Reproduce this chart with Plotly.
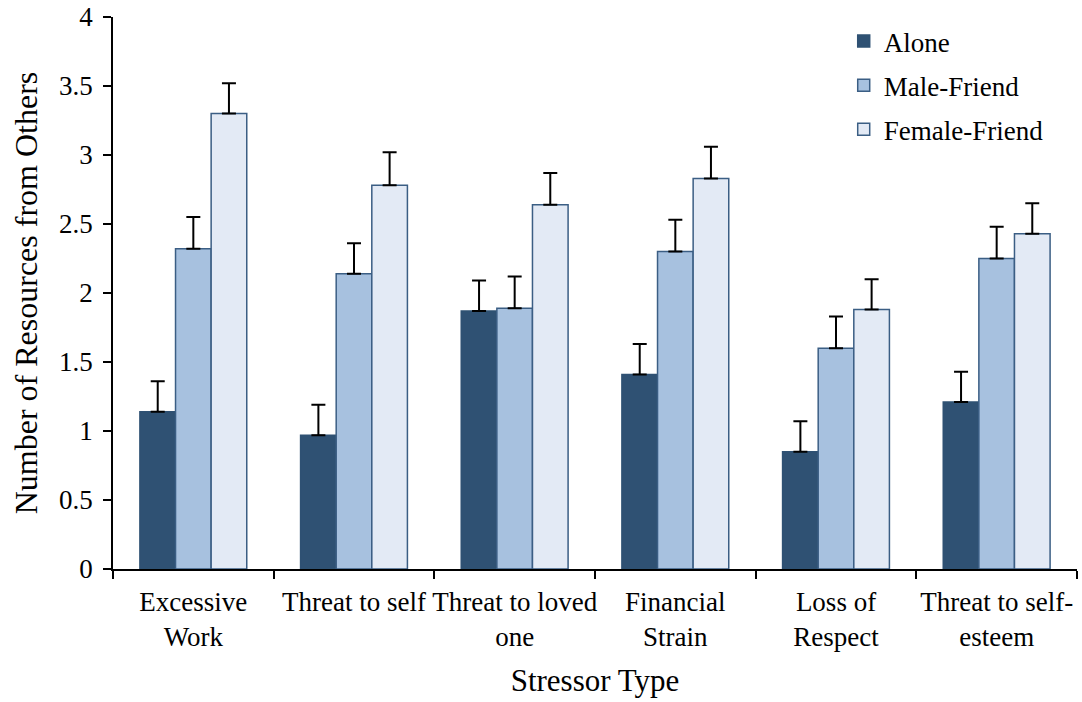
import plotly.graph_objects as go

categories = ["Excessive<br>Work", "Threat to self", "Threat to loved<br>one",
              "Financial<br>Strain", "Loss of<br>Respect", "Threat to self-<br>esteem"]
alone = [1.14, 0.97, 1.87, 1.41, 0.85, 1.21]
alone_err = [0.22, 0.22, 0.22, 0.22, 0.22, 0.22]
male = [2.32, 2.14, 1.89, 2.30, 1.60, 2.25]
male_err = [0.23, 0.22, 0.23, 0.23, 0.23, 0.23]
female = [3.30, 2.78, 2.64, 2.83, 1.88, 2.43]
female_err = [0.22, 0.24, 0.23, 0.23, 0.22, 0.22]

series = [
    ("Alone", alone, alone_err, "#2F5173", "#2F5173"),
    ("Male-Friend", male, male_err, "#A7C1DF", "#3B5E84"),
    ("Female-Friend", female, female_err, "#E3EAF5", "#3B5E84"),
]

FONT = "Liberation Serif"

fig = go.Figure()
for i, (name, vals, errs, fill, line) in enumerate(series):
    fig.add_trace(go.Bar(
        name=name, x=categories, y=vals,
        marker=dict(color=fill, line=dict(color=line, width=1.5)),
        error_y=dict(type="data", array=errs, arrayminus=[0] * len(errs),
                     symmetric=False, color="black", thickness=2, width=7),
        legendgroup=f"g{i}",
    ))

fig.update_layout(
    width=1082, height=702,
    margin=dict(l=113, r=5, t=17, b=133),
    plot_bgcolor="white", paper_bgcolor="white",
    barmode="group", bargap=0.335, bargroupgap=0,
    font=dict(family=FONT, color="black", size=27),
    showlegend=True,
    legend=dict(x=0.758, y=1.0, xanchor="left", yanchor="top",
                font=dict(size=27, family=FONT, color="black"), tracegroupgap=6,
                bgcolor="rgba(0,0,0,0)", itemwidth=30),
    xaxis=dict(showline=True, linecolor="black", linewidth=1.5,
               ticks="outside", tickson="boundaries", ticklen=8,
               tickcolor="black", tickwidth=1.5, tickangle=0, automargin=False,
               ticklabelstandoff=8, ticklabeloverflow="allow",
               tickfont=dict(size=27, family=FONT, color="black"),
               title=dict(text="Stressor Type", font=dict(size=31, family=FONT, color="black"),
                          standoff=18),
               showgrid=False, zeroline=False),
    yaxis=dict(range=[0, 4], dtick=0.5, showline=True, linecolor="black", linewidth=1.5,
               ticks="outside", ticklen=8, tickcolor="black", tickwidth=1.5,
               ticklabelstandoff=5, automargin=False, ticklabeloverflow="allow",
               tickfont=dict(size=27, family=FONT, color="black"),
               title=dict(text="Number of Resources from Others",
                          font=dict(size=32, family=FONT, color="black"), standoff=12),
               showgrid=False, zeroline=False),
)

fig.write_html("out.html", config={"displayModeBar": False},
               post_script="document.body.style.margin='0';")
